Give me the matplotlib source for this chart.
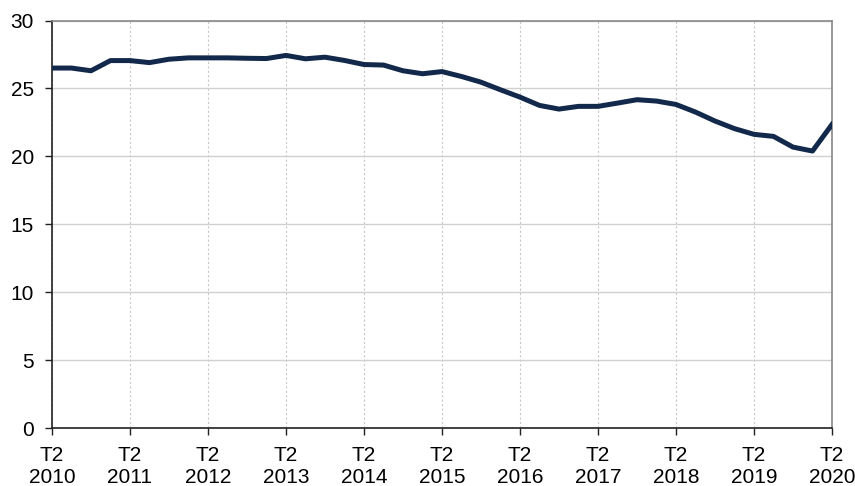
import matplotlib
matplotlib.use("Agg")
import matplotlib.pyplot as plt

plt.rcParams['font.family'] = ['Liberation Sans', 'DejaVu Sans']

# trimestres T2 2010 -> T2 2020
years = list(range(2010, 2021))
values = [26.5, 26.5, 26.3, 27.05, 27.05, 26.9, 27.15, 27.25, 27.25, 27.25,
          27.22, 27.2, 27.43, 27.18, 27.3, 27.06, 26.76, 26.72, 26.3, 26.08,
          26.24, 25.88, 25.46, 24.9, 24.36, 23.75, 23.48, 23.68, 23.68, 23.92,
          24.17, 24.07, 23.82, 23.26, 22.6, 22.04, 21.62, 21.47, 20.68, 20.39,
          22.35]
tick_labels = [f"T2\n{y}" for y in years]

fig = plt.figure(figsize=(8.55, 4.86), dpi=100)
ax = fig.add_axes([0.0608, 0.1193, 0.9123, 0.8385])

x = list(range(len(values)))
ax.plot(x, values, color='#13294b', lw=3.6, solid_joinstyle='round', zorder=3)

ax.set_xlim(0, len(values) - 1)
ax.set_ylim(0, 30)
ax.set_yticks([0, 5, 10, 15, 20, 25, 30])
ax.set_xticks(range(0, len(values), 4))
ax.set_xticklabels(tick_labels)

ax.grid(axis='y', color='#d0d0d0', lw=1, ls='-')
ax.grid(axis='x', color='#c8c8c8', lw=0.8, ls=(0, (2, 2)))
ax.set_axisbelow(True)

for s in ['top', 'right']:
    ax.spines[s].set_color('#888888')
    ax.spines[s].set_linewidth(1.2)
for s in ['left', 'bottom']:
    ax.spines[s].set_color('#222222')
    ax.spines[s].set_linewidth(1.2)

ax.tick_params(axis='both', labelsize=15, length=5, width=1, color='#222222')
ax.tick_params(axis='x', pad=8)
ax.tick_params(axis='y', pad=8)

fig.savefig('out.png', dpi=100)
